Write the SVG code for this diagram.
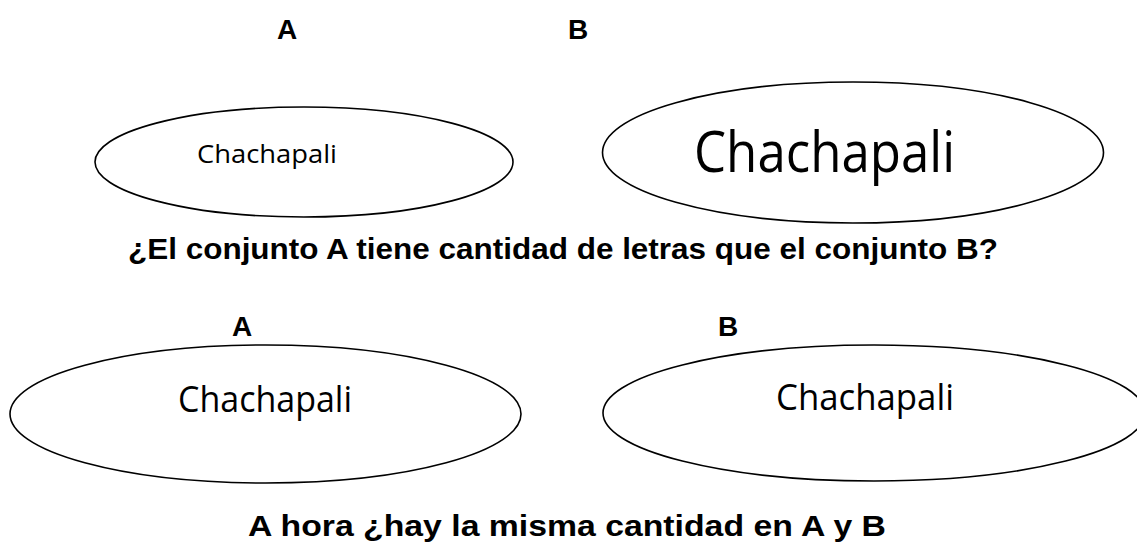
<svg xmlns="http://www.w3.org/2000/svg" width="1137" height="543" viewBox="0 0 1137 543">
<style>
.set{fill:none;stroke:#000;stroke-width:1.6}
.lbl{font-family:"Liberation Sans",Arial,sans-serif;font-weight:bold;font-size:28px;fill:#000;text-anchor:middle}
.q{font-family:"Liberation Sans",Arial,sans-serif;font-weight:bold;font-size:29px;fill:#000}
.w{font-family:"Open Sans","Noto Sans",sans-serif;fill:#000}
</style>
<rect width="1137" height="543" fill="#fff"/>
<g id="label-A1"><text class="lbl" x="287" y="39">A</text></g>
<g id="label-B1"><text class="lbl" x="578" y="39">B</text></g>
<g id="set-A1">
<ellipse class="set" cx="304" cy="162" rx="209" ry="55"/>
<text class="w" x="197" y="163" font-size="25" textLength="140" lengthAdjust="spacingAndGlyphs">Chachapali</text>
</g>
<g id="set-B1">
<ellipse class="set" cx="853" cy="152.5" rx="250.5" ry="70.5"/>
<text class="w" x="694" y="172" font-size="56" textLength="261" lengthAdjust="spacingAndGlyphs">Chachapali</text>
</g>
<g id="question1"><text class="q" x="128" y="259" textLength="870" lengthAdjust="spacingAndGlyphs">¿El conjunto A tiene cantidad de letras que el conjunto B?</text></g>
<g id="label-A2"><text class="lbl" x="242" y="336">A</text></g>
<g id="label-B2"><text class="lbl" x="728" y="336">B</text></g>
<g id="set-A2">
<ellipse class="set" cx="265.5" cy="414" rx="255.5" ry="69"/>
<text class="w" x="178" y="412" font-size="36" textLength="174" lengthAdjust="spacingAndGlyphs">Chachapali</text>
</g>
<g id="set-B2">
<ellipse class="set" cx="874" cy="413" rx="271" ry="68"/>
<text class="w" x="776" y="410" font-size="36" textLength="178" lengthAdjust="spacingAndGlyphs">Chachapali</text>
</g>
<g id="question2"><text class="q" x="248" y="536" textLength="638" lengthAdjust="spacingAndGlyphs">A hora ¿hay la misma cantidad en A y B</text></g>
<g id="connectors"/>
</svg>
